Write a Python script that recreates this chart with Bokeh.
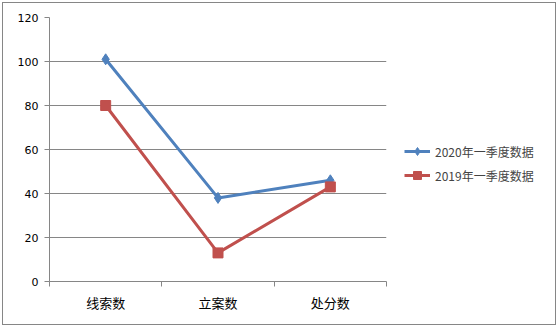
from bokeh.plotting import figure
from bokeh.models import FixedTicker, Legend, LegendItem, Range1d, InlineStyleSheet
from bokeh.embed import file_html
from bokeh.resources import INLINE

categories = ["线索数", "立案数", "处分数"]
s2020 = [101, 38, 46]
s2019 = [80, 13, 43]
name2020 = "2020年一季度数据"
name2019 = "2019年一季度数据"
yticks = [0, 20, 40, 60, 80, 100, 120]

xs = [i + 0.5 for i in range(len(categories))]

css = InlineStyleSheet(css=""":host::after { content: ""; position: absolute; left: 2px; top: 2px;
 width: 552px; height: 321px; border: 1.5px solid #868686; pointer-events: none; z-index: 10; }""")

p = figure(frame_width=337, frame_height=264, output_backend="svg", toolbar_location=None,
           x_range=Range1d(0, len(categories)), y_range=Range1d(0, 120),
           min_border_left=49, min_border_right=173, min_border_top=17, min_border_bottom=47,
           stylesheets=[css])
p.outline_line_color = None
p.background_fill_color = "white"
p.border_fill_color = "white"

grey = "#868686"
p.xgrid.visible = False
p.ygrid.grid_line_color = grey
p.ygrid.grid_line_width = 1

p.yaxis.ticker = FixedTicker(ticks=yticks)
p.yaxis.axis_line_color = grey
p.yaxis.major_tick_line_color = grey
p.yaxis.major_tick_out = 5
p.yaxis.major_tick_in = 0
p.yaxis.minor_tick_line_color = None
p.yaxis.major_label_standoff = 6
p.yaxis.major_label_text_font = "DejaVu Sans"
p.yaxis.major_label_text_font_size = "11px"
p.yaxis.major_label_text_color = "black"

p.xaxis.ticker = FixedTicker(ticks=xs, minor_ticks=list(range(len(categories) + 1)))
p.xaxis.major_label_overrides = {x: c for x, c in zip(xs, categories)}
p.xaxis.axis_line_color = grey
p.xaxis.major_tick_line_color = None
p.xaxis.major_tick_out = 0
p.xaxis.major_tick_in = 0
p.xaxis.minor_tick_line_color = grey
p.xaxis.minor_tick_out = 5
p.xaxis.minor_tick_in = 0
p.xaxis.major_label_standoff = 6
p.xaxis.major_label_text_font = "Noto Sans CJK SC"
p.xaxis.major_label_text_font_size = "13px"
p.xaxis.major_label_text_color = "black"

blue = "#4F81BD"
red = "#C0504D"
l1 = p.line(xs, s2020, line_color=blue, line_width=3)
m1 = p.scatter(xs, s2020, marker="diamond", size=11, fill_color=blue, line_color=blue)
l2 = p.line(xs, s2019, line_color=red, line_width=3)
m2 = p.scatter(xs, s2019, marker="square", size=10, fill_color=red, line_color=red)

legend = Legend(items=[LegendItem(label=name2020, renderers=[l1, m1]),
                       LegendItem(label=name2019, renderers=[l2, m2])],
                location=(18, 96), border_line_color=None, background_fill_alpha=0,
                label_text_font="Noto Sans CJK SC", label_text_font_size="12px",
                glyph_width=26, spacing=4, margin=0, padding=0)
p.add_layout(legend, "right")

open("out.html", "w").write(file_html(p, INLINE))
